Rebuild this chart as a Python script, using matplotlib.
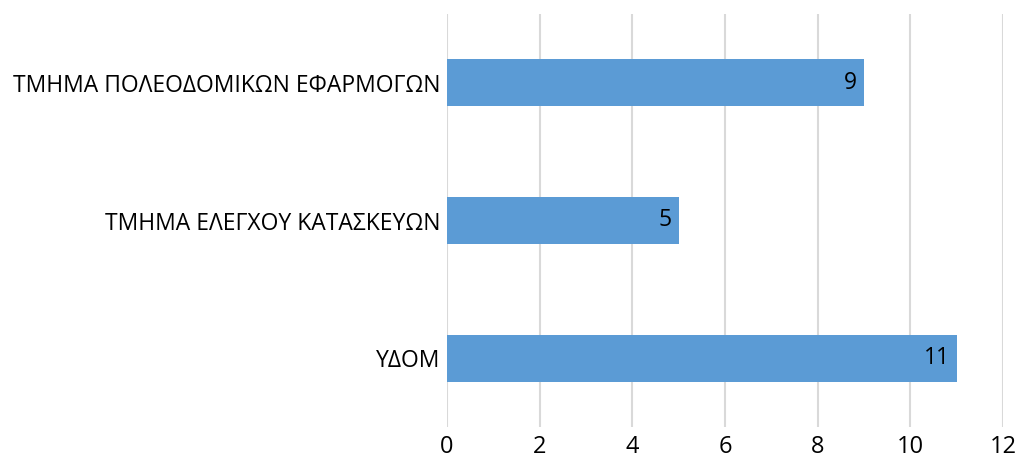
import matplotlib.pyplot as plt

categories = ["ΥΔΟΜ", "ΤΜΗΜΑ ΕΛΕΓΧΟΥ ΚΑΤΑΣΚΕΥΩΝ", "ΤΜΗΜΑ ΠΟΛΕΟΔΟΜΙΚΩΝ ΕΦΑΡΜΟΓΩΝ"]
values = [11, 5, 9]
xticks = [0, 2, 4, 6, 8, 10, 12]

plt.rcParams['font.family'] = ['Open Sans', 'DejaVu Sans']

fig = plt.figure(figsize=(10.16, 4.61), dpi=100)
ax = fig.add_axes([447 / 1016, 1 - 427 / 461, (1003 - 447) / 1016, (427 - 14) / 461])

bars = ax.barh(range(len(categories)), values, height=0.34, color='#5B9BD5', zorder=3)
for b, v in zip(bars, values):
    ax.text(b.get_width() - 0.15, b.get_y() + b.get_height() / 2, str(v),
            ha='right', va='center', fontsize=16.5, color='black', zorder=4)

ax.set_xlim(0, 12)
ax.set_ylim(-0.5, 2.5)
ax.set_xticks(xticks)
ax.set_yticks(range(len(categories)))
ax.set_yticklabels(categories, fontsize=16.5)
ax.tick_params(axis='both', length=0)
ax.tick_params(axis='x', pad=6, labelsize=17)
ax.tick_params(axis='y', pad=5)
ax.grid(axis='x', color='#D9D9D9', linewidth=1.5, zorder=0)
for s in ax.spines.values():
    s.set_visible(False)

fig.savefig('out.png', dpi=100)
